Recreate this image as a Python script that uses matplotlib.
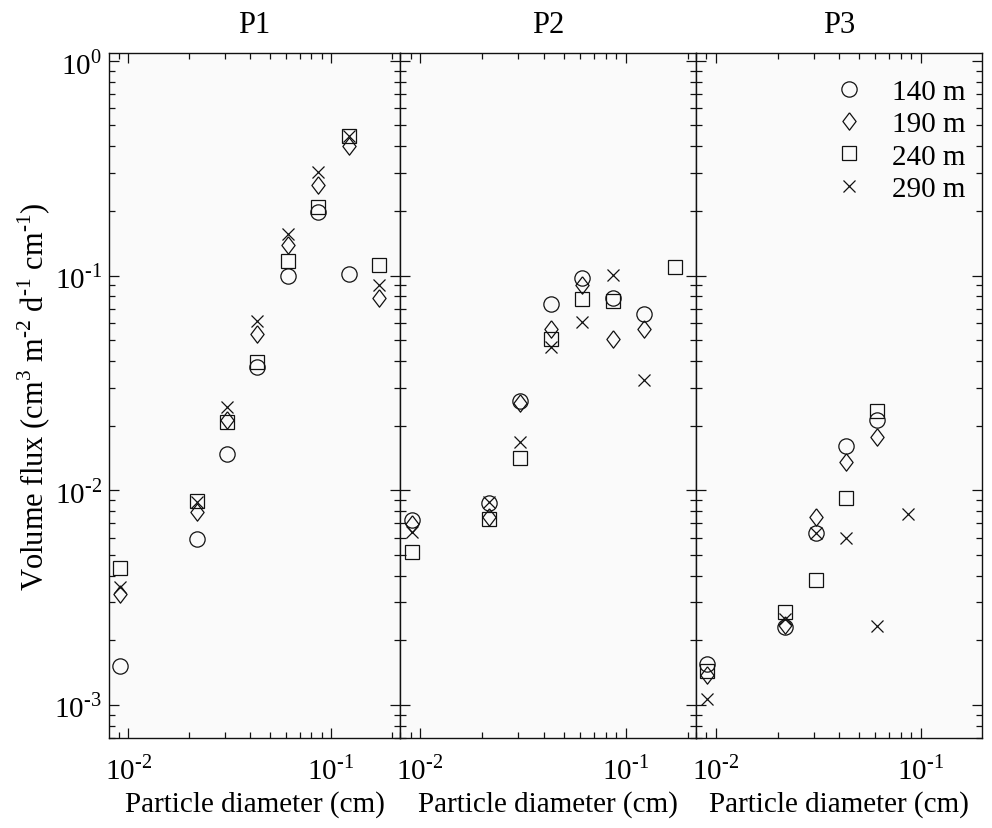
import numpy as np
import matplotlib
matplotlib.use("Agg")
import matplotlib.pyplot as plt
from matplotlib.ticker import LogLocator, NullFormatter, FuncFormatter

plt.rcParams['font.family'] = ['Liberation Serif', 'DejaVu Serif']
plt.rcParams['mathtext.fontset'] = 'custom'
plt.rcParams['mathtext.rm'] = 'Liberation Serif'
plt.rcParams['axes.unicode_minus'] = False
plt.rcParams['font.size'] = 21

nan = np.nan

# particle diameter bins (cm)
diameter = [0.0091, 0.0217, 0.0307, 0.0433, 0.0612, 0.0866, 0.1225, 0.1732]

depths = ['140 m', '190 m', '240 m', '290 m']

# volume flux (cm3 m-2 d-1 cm-1) at each depth, one list per station
p1_140 = [1.52e-3, 5.9e-3, 0.0148, 0.0373, 0.0997, 0.197, 0.1016, nan]
p1_190 = [3.28e-3, 7.9e-3, 0.0213, 0.0533, 0.138, 0.264, 0.402, 0.0785]
p1_240 = [4.32e-3, 8.9e-3, 0.0207, 0.0394, 0.117, 0.208, 0.447, 0.112]
p1_290 = [3.55e-3, 8.8e-3, 0.0243, 0.0615, 0.156, 0.305, 0.445, 0.090]

p2_140 = [7.26e-3, 8.7e-3, 0.0261, 0.0736, 0.0969, 0.0782, 0.0661, nan]
p2_190 = [6.95e-3, 7.47e-3, 0.0255, 0.0563, 0.0902, 0.0506, 0.0563, nan]
p2_240 = [5.16e-3, 7.33e-3, 0.0141, 0.0505, 0.0776, 0.0762, nan, 0.110]
p2_290 = [6.35e-3, 8.76e-3, 0.0167, 0.0466, 0.0604, 0.1004, 0.0327, nan]

p3_140 = [1.55e-3, 2.30e-3, 6.29e-3, 0.0161, 0.0213, nan, nan, nan]
p3_190 = [1.37e-3, 2.35e-3, 7.47e-3, 0.0135, 0.0176, nan, nan, nan]
p3_240 = [1.44e-3, 2.70e-3, 3.81e-3, 9.16e-3, 0.0234, nan, nan, nan]
p3_290 = [1.06e-3, 2.51e-3, 6.29e-3, 5.96e-3, 2.34e-3, 7.74e-3, nan, nan]

stations = ['P1', 'P2', 'P3']
flux = [
    [p1_140, p1_190, p1_240, p1_290],
    [p2_140, p2_190, p2_240, p2_290],
    [p3_140, p3_190, p3_240, p3_290],
]

# tall, narrow diamond
diamond = [(0, 1), (0.76, 0), (0, -1), (-0.76, 0), (0, 1)]
styles = [
    dict(marker='o', ms=11),
    dict(marker=diamond, ms=12.5),
    dict(marker='s', ms=9.5),
    dict(marker='x', ms=9),
]


def pow10(v, pos):
    n = int(round(np.log10(v)))
    return r'10$^{\text{%d}}$' % n


fig = plt.figure(figsize=(9.92, 8.29), dpi=100)

W, H = 992.0, 829.0
top, bottom = 53.5, 739.0
panels = [(109, 400, (0.00803, 0.219)),
          (400, 696, (0.0080, 0.219)),
          (696, 982, (0.0080, 0.199))]

axes = []
for i, (x0, x1, xlim) in enumerate(panels):
    ax = fig.add_axes([x0 / W, 1 - bottom / H, (x1 - x0) / W, (bottom - top) / H])
    ax.set_facecolor('#fafafa')
    ax.set_xscale('log')
    ax.set_yscale('log')
    ax.set_xlim(*xlim)
    ax.set_ylim(7.0e-4, 1.094)

    for vals, st, lab in zip(flux[i], styles, depths):
        ax.plot(diameter, vals, linestyle='none', marker=st['marker'],
                ms=st['ms'], mfc='none', mec='#111111', mew=0.9, label=lab)

    ax.tick_params(which='both', direction='in', top=True, right=True,
                   width=0.9, color='#111111')
    ax.tick_params(which='major', length=7, pad=12)
    ax.tick_params(which='minor', length=4)
    ax.xaxis.set_major_locator(LogLocator(base=10))
    ax.yaxis.set_major_locator(LogLocator(base=10))
    ax.xaxis.set_minor_locator(LogLocator(base=10, subs=np.arange(2, 10)))
    ax.yaxis.set_minor_locator(LogLocator(base=10, subs=np.arange(2, 10)))
    ax.xaxis.set_major_formatter(FuncFormatter(pow10))
    ax.yaxis.set_major_formatter(FuncFormatter(pow10))
    ax.xaxis.set_minor_formatter(NullFormatter())
    ax.yaxis.set_minor_formatter(NullFormatter())
    for s in ax.spines.values():
        s.set_linewidth(1.0)
        s.set_color('#111111')

    ax.set_title(stations[i], fontsize=22, pad=15)
    ax.set_xlabel('Particle diameter (cm)', fontsize=21, labelpad=4)
    if i == 0:
        ax.set_ylabel(r'Volume flux (cm$^{\text{3}}$ m$^{\text{-2}}$ d$^{\text{-1}}$ cm$^{\text{-1}}$)',
                      fontsize=22, labelpad=1)
        ax.tick_params(axis='y', which='major', pad=5)
    else:
        ax.tick_params(axis='y', which='both', labelleft=False)
    axes.append(ax)

leg = axes[2].legend(loc='upper right', bbox_to_anchor=(1.035, 1.0), frameon=False,
                     fontsize=21, handlelength=1.0, handletextpad=1.0,
                     labelspacing=0.2, markerscale=1.0)

fig.savefig('out.png', dpi=100)
